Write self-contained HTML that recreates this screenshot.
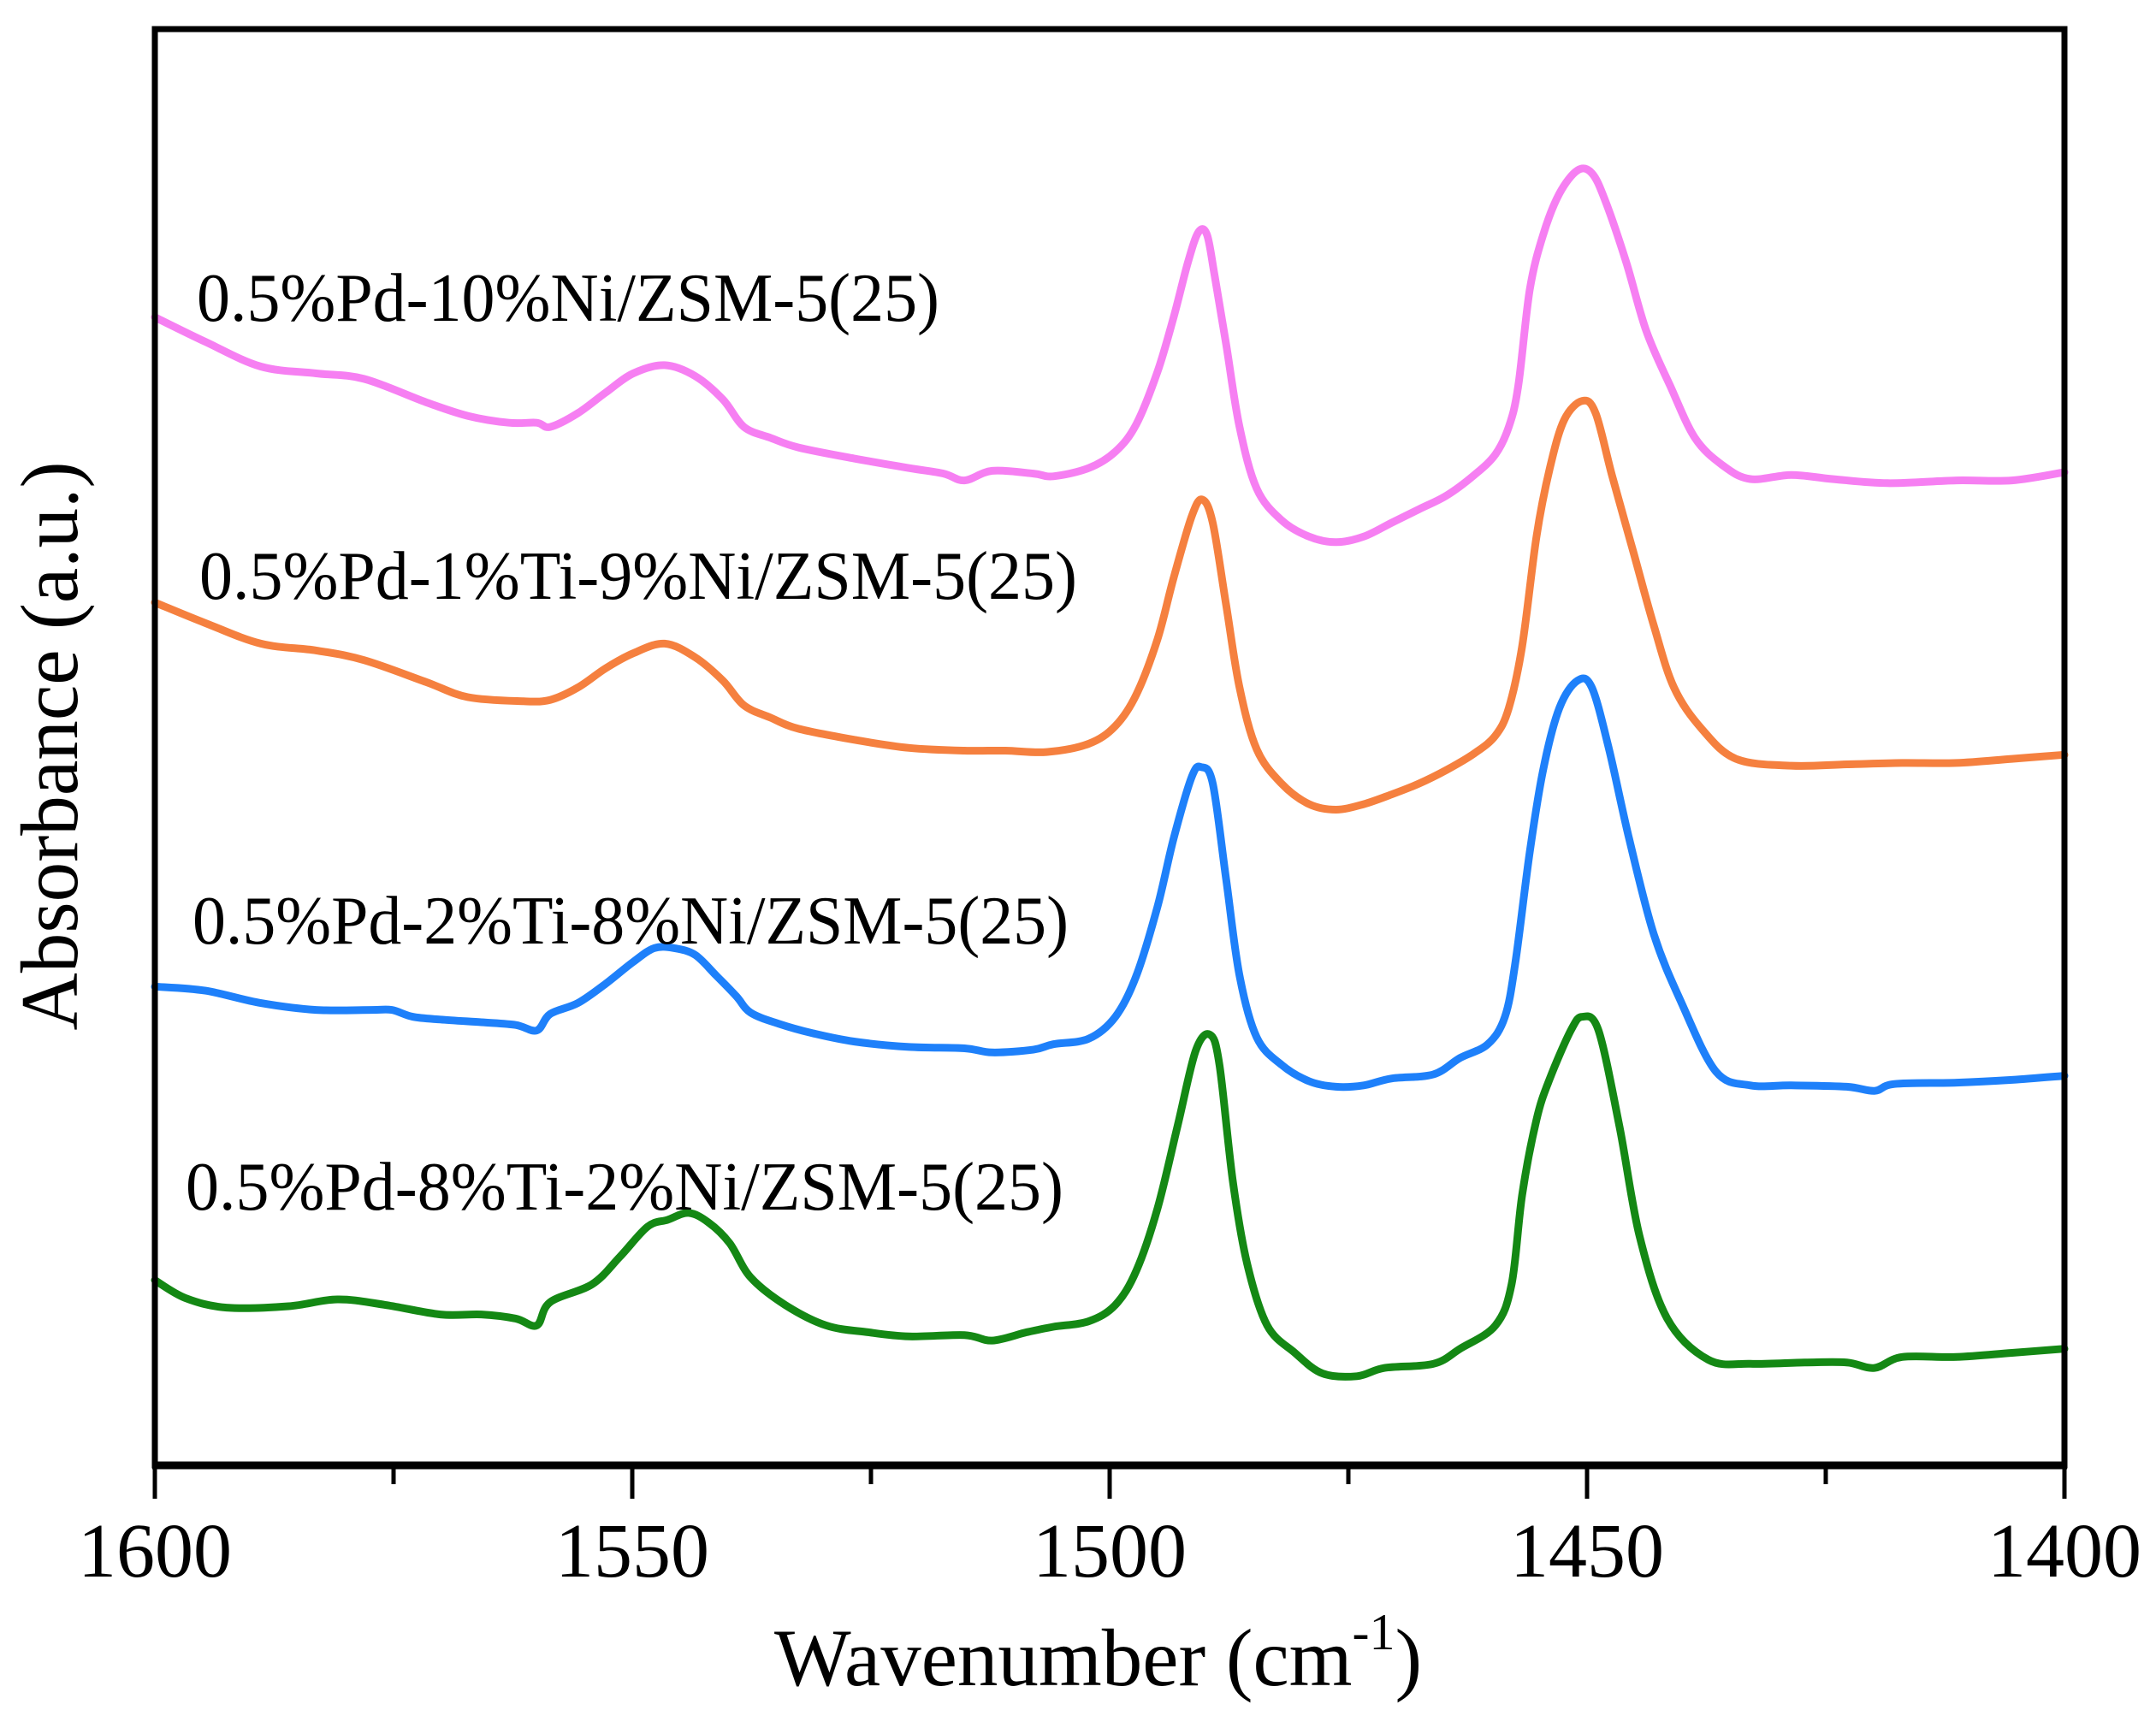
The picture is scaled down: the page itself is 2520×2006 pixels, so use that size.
<!DOCTYPE html>
<html><head><meta charset="utf-8"><style>
html,body{margin:0;padding:0;background:#fff}
svg{display:block}
text{font-family:"Liberation Serif",serif;fill:#000}
</style></head><body>
<svg id="chart" width="2520" height="2006" viewBox="0 0 2520 2006" xmlns="http://www.w3.org/2000/svg">
<g id="series"></g>
<rect x="181" y="34" width="2232" height="1679" fill="none" stroke="#000" stroke-width="7"/>
<line x1="178" y1="1713" x2="2416" y2="1713" stroke="#000" stroke-width="9"/>
<g id="ticks"></g>
<text x="230" y="375" font-size="80" textLength="868" lengthAdjust="spacingAndGlyphs">0.5%Pd-10%Ni/ZSM-5(25)</text>
<text x="233" y="700" font-size="80" textLength="1026" lengthAdjust="spacingAndGlyphs">0.5%Pd-1%Ti-9%Ni/ZSM-5(25)</text>
<text x="225" y="1103" font-size="80" textLength="1024" lengthAdjust="spacingAndGlyphs">0.5%Pd-2%Ti-8%Ni/ZSM-5(25)</text>
<text x="217" y="1414" font-size="80" textLength="1026" lengthAdjust="spacingAndGlyphs">0.5%Pd-8%Ti-2%Ni/ZSM-5(25)</text>
<text transform="translate(90,872) rotate(-90)" text-anchor="middle" font-size="95" textLength="665" lengthAdjust="spacingAndGlyphs">Absorbance (a.u.)</text>
<text x="905" y="1970" font-size="95">Wavenumber (cm<tspan font-size="60" dy="-42">-1</tspan><tspan dy="42">)</tspan></text>
</svg>
<script>
const xTickValues=[1600,1550,1500,1450,1400];
const xMinorTicks=[1575,1525,1475,1425];
const wnPink=[1600,1594.7,1588.9,1583.1,1578.1,1571.6,1567.2,1562.9,1560.0,1558.6,1555.7,1552.8,1549.9,1546.6,1543.4,1540.5,1538.3,1535.5,1532.6,1526.8,1521.0,1517.4,1515.2,1512.3,1508.0,1505.9,1502.2,1499.4,1497.2,1495.0,1493.3,1491.8,1490.7,1489.8,1489.0,1487.8,1486.4,1484.6,1482.0,1479.1,1476.3,1473.4,1470.5,1467.6,1464.7,1461.8,1459.6,1458.2,1457.2,1456.0,1454.6,1452.9,1451.0,1449.5,1448.1,1445.9,1443.8,1441.3,1438.7,1435.8,1432.9,1428.6,1424.3,1418.5,1411.3,1405.5,1400];
const absPink=[83.7,81.9,80.1,79.6,79.2,77.5,76.5,76.0,76.0,75.7,76.7,78.2,79.6,80.2,79.4,77.7,75.7,74.9,74.2,73.4,72.7,72.3,71.8,72.5,72.3,72.1,72.7,73.9,75.9,79.7,83.7,87.7,89.9,89.7,86.7,81.7,75.7,71.2,68.9,67.7,67.3,67.7,68.7,69.7,70.7,72.2,73.7,75.7,78.7,85.7,89.7,92.7,94.4,94.2,92.2,87.7,82.7,78.7,74.9,72.9,71.9,72.2,71.9,71.6,71.8,71.8,72.4];
const wnOrange=[1600,1594.7,1588.9,1583.1,1578.1,1571.6,1567.2,1561.4,1558.6,1555.7,1552.8,1549.9,1546.6,1543.4,1540.5,1538.3,1535.5,1532.6,1526.8,1521.0,1515.2,1510.9,1506.6,1502.2,1499.4,1497.2,1495.0,1493.3,1491.4,1490.3,1489.2,1487.8,1486.4,1484.6,1482.0,1479.1,1476.3,1473.4,1470.5,1467.6,1464.7,1461.8,1459.6,1458.2,1456.8,1455.3,1453.9,1452.4,1450.5,1449.1,1447.4,1445.2,1443.0,1440.9,1438.0,1434.4,1428.6,1422.8,1417.0,1411.3,1405.5,1400];
const absOrange=[62.9,61.4,59.9,59.4,58.7,57.1,56.0,55.7,55.8,56.7,58.1,59.2,59.9,58.9,57.2,55.4,54.5,53.7,52.9,52.3,52.1,52.1,52.0,52.6,53.9,56.2,60.2,64.7,69.2,70.4,68.7,62.7,56.7,52.2,49.7,48.2,47.8,48.2,48.9,49.7,50.7,51.9,53.2,55.2,59.7,67.7,72.7,76.2,77.6,76.7,72.2,66.7,61.2,56.7,53.7,51.5,51.0,51.1,51.2,51.2,51.5,51.8];
const wnBlue=[1600,1594.7,1588.9,1583.1,1577.3,1575.2,1573.0,1570.1,1565.8,1562.2,1560.0,1558.6,1555.7,1552.8,1549.9,1547.7,1545.6,1543.4,1541.2,1539.1,1537.6,1534.7,1531.1,1526.8,1521.0,1515.2,1512.3,1508.0,1505.9,1502.2,1499.4,1497.2,1495.0,1493.3,1491.4,1490.4,1489.2,1487.8,1486.4,1484.6,1482.0,1479.1,1476.3,1473.4,1470.5,1466.1,1463.3,1460.4,1458.6,1457.5,1456.0,1454.6,1452.9,1451.0,1449.5,1447.7,1445.6,1443.0,1440.1,1436.5,1432.9,1428.6,1422.8,1419.9,1417.8,1411.3,1405.5,1400];
const absBlue=[34.9,34.6,33.7,33.2,33.2,33.2,32.7,32.5,32.3,32.1,31.7,32.9,33.7,35.1,36.7,37.7,37.7,37.2,35.7,34.2,33.0,32.2,31.5,30.9,30.5,30.4,30.1,30.3,30.7,31.1,32.7,35.7,40.7,45.7,50.2,50.9,49.7,42.7,35.7,31.2,29.2,28.0,27.6,27.7,28.2,28.5,29.7,30.7,32.7,36.7,44.7,50.7,55.2,57.2,56.7,52.2,45.7,38.7,33.7,28.7,27.7,27.7,27.6,27.3,27.8,27.9,28.1,28.4];
const wnGreen=[1600,1596.8,1592.5,1586.0,1580.9,1575.9,1570.1,1565.8,1562.2,1560.0,1558.6,1554.2,1551.3,1548.4,1546.3,1544.1,1542.0,1539.8,1537.6,1534.0,1529.7,1525.3,1521.0,1515.2,1512.3,1508.7,1505.9,1502.2,1499.4,1497.2,1495.0,1492.9,1491.0,1489.5,1488.5,1487.1,1485.6,1483.5,1480.6,1477.7,1474.1,1471.2,1466.1,1463.3,1459.6,1457.9,1456.8,1455.3,1453.9,1451.7,1450.5,1448.8,1446.6,1444.5,1441.6,1437.3,1432.9,1427.2,1422.8,1419.9,1417.0,1411.3,1405.5,1400];
const absGreen=[13.5,12.2,11.5,11.6,12.1,11.7,11.0,11.0,10.7,10.2,11.9,13.2,15.2,17.4,17.9,18.4,17.7,16.2,13.7,11.7,10.2,9.7,9.4,9.5,9.1,9.7,10.1,10.5,11.7,14.2,18.7,24.7,30.2,31.4,29.2,20.7,14.7,10.2,8.2,6.7,6.5,7.1,7.4,8.5,10.2,13.2,19.7,25.2,28.2,31.7,32.7,31.7,24.7,16.7,10.7,7.7,7.4,7.5,7.5,7.1,7.9,7.9,8.2,8.5];

const NS='http://www.w3.org/2000/svg';
const X0=181,X1=2413,Y0=1713,Y1=34,WMAX=1600,WMIN=1400,VMIN=0,VMAX=104.7;
function xs(w){return X0+(WMAX-w)/(WMAX-WMIN)*(X1-X0);}
function ys(v){return Y0-(v-VMIN)/(VMAX-VMIN)*(Y0-Y1);}
function pathFor(wn,ab){
  const p=wn.map((w,i)=>[xs(w),ys(ab[i])]);
  let d='M'+p[0][0].toFixed(1)+','+p[0][1].toFixed(1);
  for(let i=0;i<p.length-1;i++){
    const a=p[Math.max(i-1,0)],b=p[i],c=p[i+1],e=p[Math.min(i+2,p.length-1)];
    const c1=[b[0]+(c[0]-a[0])/6,b[1]+(c[1]-a[1])/6],c2=[c[0]-(e[0]-b[0])/6,c[1]-(e[1]-b[1])/6];
    d+='C'+c1[0].toFixed(1)+','+c1[1].toFixed(1)+' '+c2[0].toFixed(1)+','+c2[1].toFixed(1)+' '+c[0].toFixed(1)+','+c[1].toFixed(1);
  }
  return d;
}
const g=document.getElementById('series');
function addSeries(name,wn,ab,color){
  const el=document.createElementNS(NS,'path');
  el.setAttribute('d',pathFor(wn,ab));
  el.setAttribute('fill','none');el.setAttribute('stroke',color);
  el.setAttribute('stroke-width','9');el.setAttribute('stroke-linejoin','round');el.setAttribute('stroke-linecap','round');
  
  
  g.appendChild(el);
}
addSeries('series-pd-10ni',wnPink,absPink,'#f67ff2');
addSeries('series-pd-1ti-9ni',wnOrange,absOrange,'#f5803f');
addSeries('series-pd-2ti-8ni',wnBlue,absBlue,'#1e80fa');
addSeries('series-pd-8ti-2ni',wnGreen,absGreen,'#148814');
const t=document.getElementById('ticks');
xTickValues.forEach(v=>{
  const l=document.createElementNS(NS,'line');
  l.setAttribute('x1',xs(v));l.setAttribute('x2',xs(v));l.setAttribute('y1',1713);l.setAttribute('y2',1752);
  l.setAttribute('stroke','#000');l.setAttribute('stroke-width','5');
  
  
  t.appendChild(l);
  const tx=document.createElementNS(NS,'text');
  tx.setAttribute('x',xs(v));tx.setAttribute('y',1843);tx.setAttribute('text-anchor','middle');tx.setAttribute('font-size','90');
  tx.textContent=v;
  
  
  t.appendChild(tx);
});
xMinorTicks.forEach(v=>{
  const l=document.createElementNS(NS,'line');
  l.setAttribute('x1',xs(v));l.setAttribute('x2',xs(v));l.setAttribute('y1',1713);l.setAttribute('y2',1735);
  l.setAttribute('stroke','#000');l.setAttribute('stroke-width','5');
  
  
  t.appendChild(l);
});
</script>
</body></html>
